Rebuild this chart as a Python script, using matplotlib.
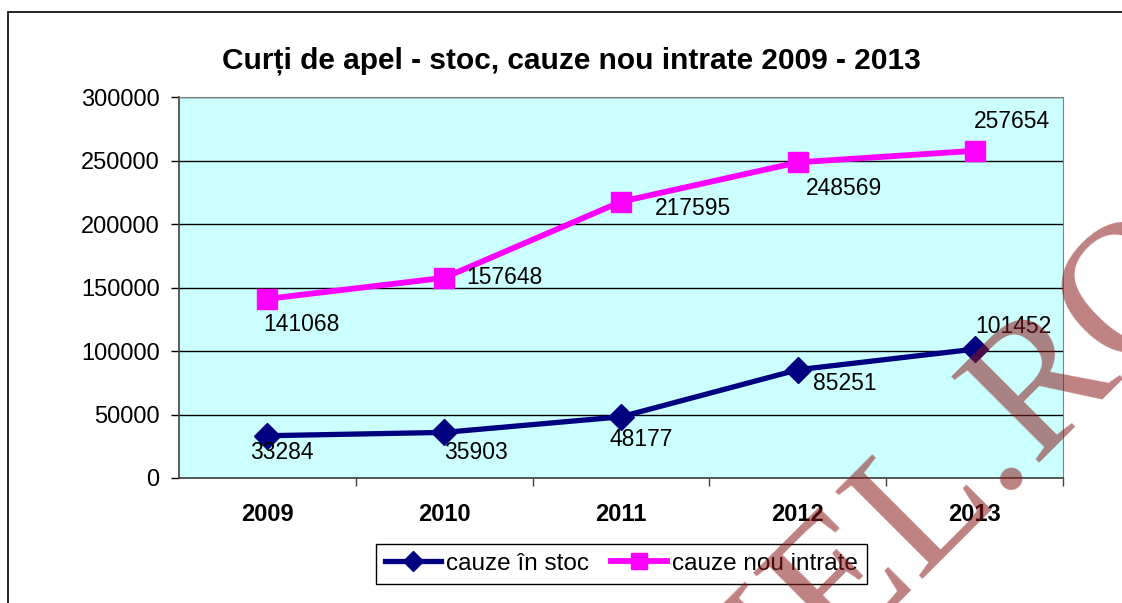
import matplotlib.pyplot as plt
from matplotlib.patches import Rectangle

plt.rcParams['font.family'] = ['Liberation Sans', 'DejaVu Sans']

# data
years = ['2009', '2010', '2011', '2012', '2013']
stoc = [33284, 35903, 48177, 85251, 101452]
intrate = [141068, 157648, 217595, 248569, 257654]
y_ticks = [0, 50000, 100000, 150000, 200000, 250000, 300000]

fig = plt.figure(figsize=(11.22, 6.03), dpi=100)
ax = fig.add_axes([0.1595, 0.2073, 0.788, 0.6318])
ax.set_facecolor('#CCFFFF')

x = list(range(len(years)))
ax.plot(x, stoc, color='#000080', lw=3.8, marker='D', ms=13,
        label='cauze în stoc', zorder=3)
ax.plot(x, intrate, color='#FF00FF', lw=4.2, marker='s', ms=15,
        label='cauze nou intrate', zorder=3)

# data labels, offsets in pixels (roughly where Excel put them)
stoc_off = [(14, -17), (32, -20), (20, -23), (47, -14), (39, 23)]
intr_off = [(34, -26), (60, 0), (72, -7), (46, -26), (37, 29)]
for i, v in enumerate(stoc):
    ax.annotate(str(v), (i, v), xytext=stoc_off[i], textcoords='offset pixels',
                ha='center', va='center', fontsize=16.5, zorder=4)
for i, v in enumerate(intrate):
    ax.annotate(str(v), (i, v), xytext=intr_off[i], textcoords='offset pixels',
                ha='center', va='center', fontsize=16.5, zorder=4)

ax.set_xlim(-0.5, 4.5)
ax.set_ylim(0, 300000)
ax.set_yticks(y_ticks)
ax.set_yticklabels([str(t) for t in y_ticks], fontsize=17)
ax.set_xticks(x)
ax.set_xticklabels(years, fontsize=17, fontweight='bold')
ax.set_xticks([i + 0.5 for i in range(len(years))], minor=True)
ax.tick_params(axis='x', which='major', length=0, pad=18)
ax.tick_params(axis='x', which='minor', length=6, width=1, color='#404040')
ax.tick_params(axis='y', length=6, width=1, pad=8)
ax.yaxis.grid(True, color='black', lw=1)
ax.set_axisbelow(True)
for s in ['top', 'right']:
    ax.spines[s].set_color('#808080')
for s in ['left', 'bottom']:
    ax.spines[s].set_color('#404040')
    ax.spines[s].set_linewidth(1.2)

fig.text(0.509, 0.9, 'Curți de apel - stoc, cauze nou intrate 2009 - 2013',
         ha='center', va='center', fontsize=21.5, fontweight='bold')

leg = ax.legend(loc='center', bbox_to_anchor=(0.554, 0.0647),
                bbox_transform=fig.transFigure, ncol=2, fontsize=17.5,
                frameon=True, fancybox=False, edgecolor='black', framealpha=1,
                numpoints=1, handlelength=2.3, handletextpad=0.2,
                columnspacing=0.9, borderpad=0.38, borderaxespad=0,
                markerscale=0.75)
leg.get_frame().set_linewidth(1)

# outer chart border (right and bottom edges fall outside the picture)
fig.patches.append(Rectangle((8 / 1122, -0.05), 1.0, 1.05 - 12 / 603,
                             transform=fig.transFigure, fill=False,
                             edgecolor='black', lw=1.2))

# watermark
wm = dict(rotation=45, rotation_mode='anchor', va='baseline', fontsize=136,
          family='Liberation Serif', color='#8B1A1A', alpha=0.55, zorder=10)
fig.text(0.9205, 0.232, 'NIEL.', ha='right', **wm)
fig.text(0.9205, 0.232, 'RO', ha='left', **wm)

plt.savefig('out.png', dpi=100)
plt.close()
